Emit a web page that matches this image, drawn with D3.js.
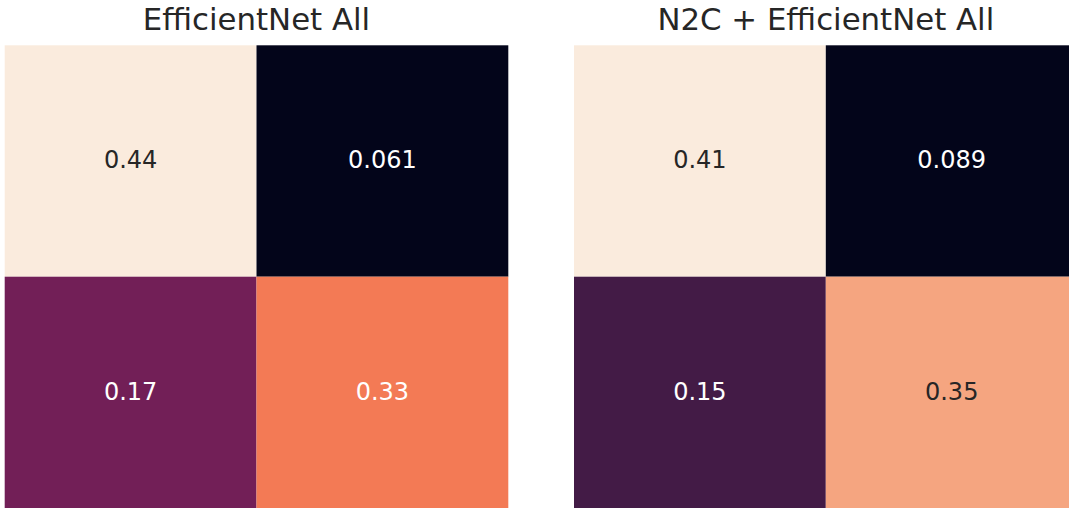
<!DOCTYPE html>
<html><head><meta charset="utf-8">
<script src="https://cdn.jsdelivr.net/npm/d3@7"></script>
<style>html,body{margin:0;padding:0;background:#fff;overflow:hidden}</style>
</head><body>
<svg id="chart" width="1069" height="508"></svg>
<script>
const titles = ["EfficientNet All", "N2C + EfficientNet All"];
const rowLabels = ["0", "1"];
const colLabels = ["0", "1"];
const valuesLeft = [[0.44, 0.061], [0.17, 0.33]];
const valuesRight = [[0.41, 0.089], [0.15, 0.35]];
// rocket colormap stops
const rocketStops = ["#03051a","#221331","#471c48","#781f59","#941c5b","#b91657","#dd2c45","#f37651","#f5a07a","#f7c6aa","#faebdd"];

const svg = d3.select("#chart");
const rocket = d3.piecewise(d3.interpolateRgb, rocketStops);
const panels = [
  {title: titles[0], values: valuesLeft, x0: 4.7},
  {title: titles[1], values: valuesRight, x0: 574}
];
const panelW = 503.6, panelTop = 45.3, panelH = 462.8;
const fmt = d3.format(".2g");

function lum(c){
  const rgb = d3.rgb(c);
  const f = v => { v/=255; return v <= 0.03928 ? v/12.92 : Math.pow((v+0.055)/1.055, 2.4); };
  return 0.2126*f(rgb.r)+0.7152*f(rgb.g)+0.0722*f(rgb.b);
}

panels.forEach(p => {
  const flat = p.values.flat();
  const color = d3.scaleSequential(rocket).domain([d3.min(flat), d3.max(flat)]);
  const x = d3.scaleBand().domain(colLabels).range([p.x0, p.x0 + panelW]);
  const y = d3.scaleBand().domain(rowLabels).range([panelTop, panelTop + panelH]);
  const g = svg.append("g");
  const cells = [];
  rowLabels.forEach((r, i) => colLabels.forEach((c, j) => cells.push({r, c, v: p.values[i][j]})));
  g.selectAll("rect").data(cells).join("rect")
    .attr("x", d => x(d.c)).attr("y", d => y(d.r))
    .attr("width", x.bandwidth()).attr("height", y.bandwidth())
    .attr("fill", d => color(d.v));
  g.selectAll("text.ann").data(cells).join("text").attr("class","ann")
    .attr("x", d => x(d.c) + x.bandwidth()/2)
    .attr("y", d => y(d.r) + y.bandwidth()/2 + 7.2)
    .attr("text-anchor", "middle")
    .attr("font-family", "DejaVu Sans")
    .attr("font-size", 24)
    .attr("fill", d => lum(color(d.v)) > 0.408 ? "#262626" : "#ffffff")
    .text(d => fmt(d.v));
  svg.append("text")
    .attr("x", p.x0 + panelW/2).attr("y", 29.5)
    .attr("text-anchor", "middle")
    .attr("font-family", "DejaVu Sans")
    .attr("font-size", 30.8)
    .attr("fill", "#262626")
    .text(p.title);
});
</script>
</body></html>
